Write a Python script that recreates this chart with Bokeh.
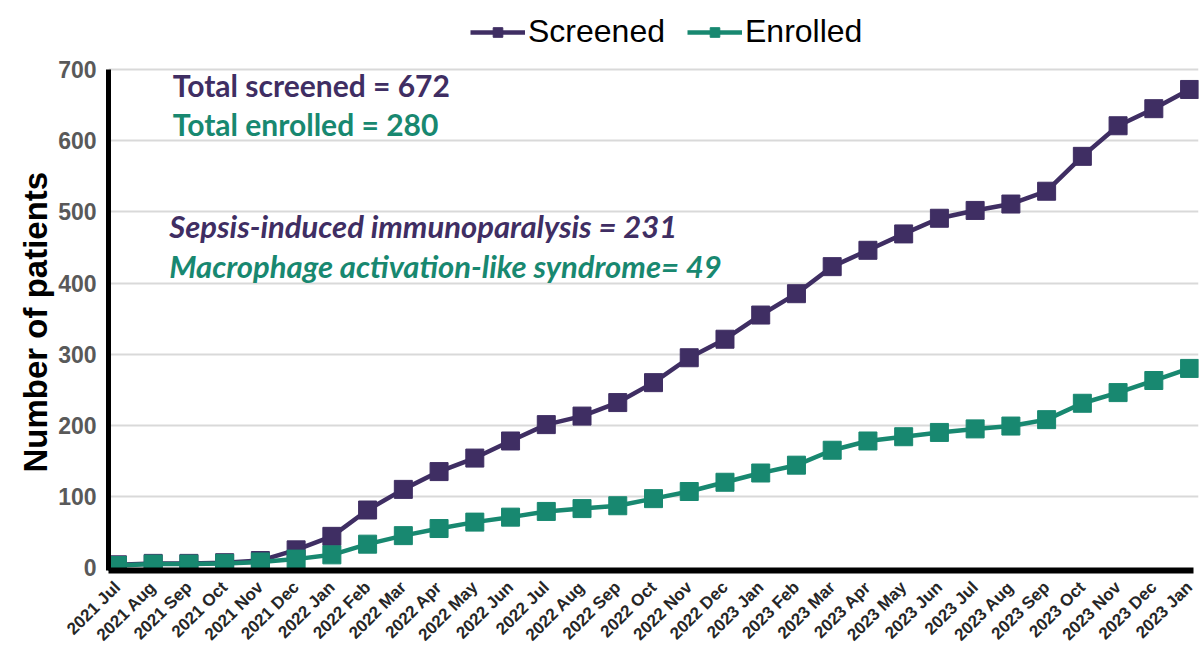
import math
from bokeh.plotting import figure
from bokeh.models import (Range1d, FixedTicker, Legend, LegendItem, Label, Title)
from bokeh.embed import file_html
from bokeh.resources import INLINE

months = ["2021 Jul", "2021 Aug", "2021 Sep", "2021 Oct", "2021 Nov", "2021 Dec",
          "2022 Jan", "2022 Feb", "2022 Mar", "2022 Apr", "2022 May", "2022 Jun",
          "2022 Jul", "2022 Aug", "2022 Sep", "2022 Oct", "2022 Nov", "2022 Dec",
          "2023 Jan", "2023 Feb", "2023 Mar", "2023 Apr", "2023 May", "2023 Jun",
          "2023 Jul", "2023 Aug", "2023 Sep", "2023 Oct", "2023 Nov", "2023 Dec",
          "2023 Jan"]
screened = [4, 6, 6, 7, 10, 25, 44, 81, 110, 135, 154, 178, 201, 213, 232, 260,
            295, 321, 355, 385, 423, 446, 469, 491, 502, 511, 529, 578, 621, 645, 672]
enrolled = [3, 5, 5, 6, 8, 12, 18, 33, 45, 55, 64, 71, 79, 83, 87, 97,
            107, 120, 133, 144, 165, 178, 184, 190, 195, 199, 208, 231, 246, 263, 280]
y_ticks = [0, 100, 200, 300, 400, 500, 600, 700]

PURPLE = "#3f2e63"
TEAL = "#188870"

x = list(range(len(months)))
X0, X1 = -0.25, len(months) - 1 + 0.25
Y0, Y1 = -4, 790

p = figure(frame_width=1090, frame_height=565, output_backend="svg", toolbar_location=None,
           x_range=Range1d(X0, X1), y_range=Range1d(Y0, Y1),
           min_border_left=108, min_border_right=2, min_border_top=5,
           min_border_bottom=70)
p.outline_line_color = None
p.background_fill_color = "white"

# grid
p.xgrid.grid_line_color = None
p.ygrid.grid_line_color = "#d9d9d9"
p.ygrid.grid_line_width = 2
p.ygrid.ticker = FixedTicker(ticks=y_ticks[1:])

# y axis
p.yaxis.ticker = FixedTicker(ticks=y_ticks)
p.yaxis.bounds = (Y0, y_ticks[-1])
p.yaxis.axis_line_width = 5
p.yaxis.axis_line_color = "black"
p.yaxis.major_tick_line_color = None
p.yaxis.minor_tick_line_color = None
p.yaxis.major_tick_out = 0
p.yaxis.major_tick_in = 0
p.yaxis.minor_tick_out = 0
p.yaxis.major_label_text_font = "Liberation Sans"
p.yaxis.major_label_text_font_style = "bold"
p.yaxis.major_label_text_font_size = "23px"
p.yaxis.major_label_text_color = "#595959"
p.yaxis.major_label_standoff = 12

# y axis title, aligned to the 0-700 part of the axis
ytitle = Title(text="Number of patients", align="left", offset=98,
               text_font="Liberation Sans", text_font_style="bold",
               text_font_size="33px", text_color="black", standoff=4)
p.add_layout(ytitle, "left")

# x axis
p.xaxis.ticker = FixedTicker(ticks=x)
p.xaxis.bounds = (X0, x[-1] + 0.1)
p.xaxis.major_label_overrides = {i: m for i, m in enumerate(months)}
p.xaxis.major_label_orientation = math.pi / 4
p.xaxis.axis_line_width = 6
p.xaxis.axis_line_color = "black"
p.xaxis.major_tick_line_color = None
p.xaxis.minor_tick_line_color = None
p.xaxis.major_tick_out = 0
p.xaxis.major_tick_in = 0
p.xaxis.minor_tick_out = 0
p.xaxis.major_label_text_font = "Liberation Sans"
p.xaxis.major_label_text_font_style = "bold"
p.xaxis.major_label_text_font_size = "17px"
p.xaxis.major_label_text_color = "#262626"
p.xaxis.major_label_standoff = 14

l1 = p.line(x, screened, line_color=PURPLE, line_width=4.5)
s1 = p.scatter(x, screened, marker="square", size=18, fill_color=PURPLE, line_color=PURPLE)
l2 = p.line(x, enrolled, line_color=TEAL, line_width=4.5)
s2 = p.scatter(x, enrolled, marker="square", size=18, fill_color=TEAL, line_color=TEAL)

legend = Legend(items=[LegendItem(label="Screened", renderers=[l1, s1]),
                       LegendItem(label="Enrolled", renderers=[l2, s2])],
                orientation="horizontal", location=(362, 520),
                label_text_font="Liberation Sans", label_text_font_size="32px",
                label_text_color="black", glyph_width=55, glyph_height=24,
                label_standoff=3, spacing=22, padding=4, margin=0,
                border_line_color=None, background_fill_alpha=0)
p.add_layout(legend, "center")

FONT = "Lato"
p.add_layout(Label(x=1.55, y=678, text="Total screened = 672", text_color=PURPLE,
                   text_font=FONT, text_font_style="bold", text_font_size="30px",
                   text_baseline="middle"))
p.add_layout(Label(x=1.55, y=624, text="Total enrolled = 280", text_color=TEAL,
                   text_font=FONT, text_font_style="bold", text_font_size="30px",
                   text_baseline="middle"))
p.add_layout(Label(x=1.45, y=480, text="Sepsis-induced immunoparalysis = 231", text_color=PURPLE,
                   text_font=FONT, text_font_style="bold italic", text_font_size="31px",
                   text_baseline="middle"))
p.add_layout(Label(x=1.45, y=424, text="Macrophage activation-like syndrome= 49", text_color=TEAL,
                   text_font=FONT, text_font_style="bold italic", text_font_size="31px",
                   text_baseline="middle"))

open("out.html", "w").write(file_html(p, INLINE))
